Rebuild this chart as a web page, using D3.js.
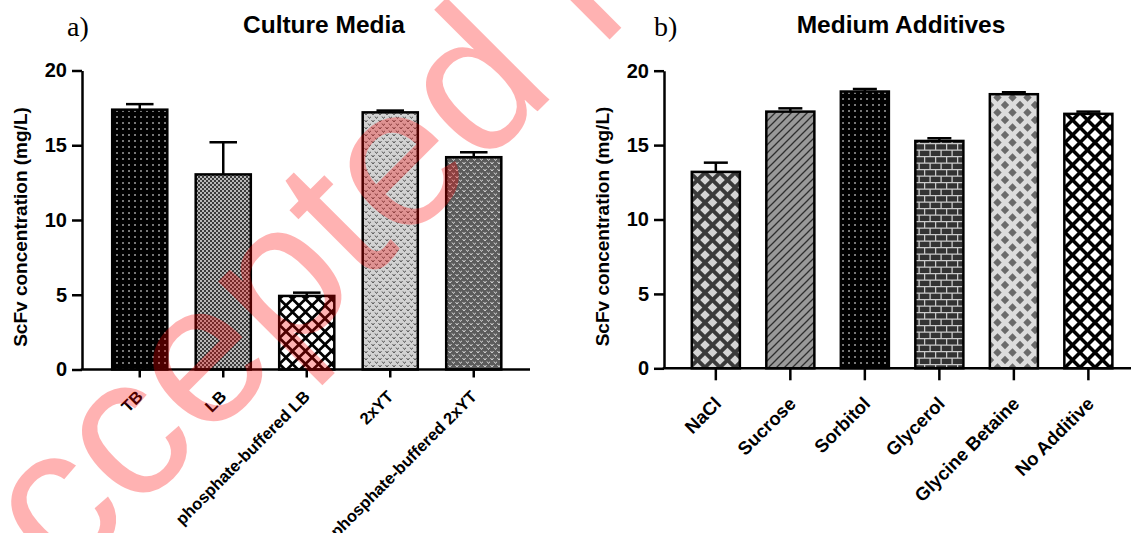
<!DOCTYPE html>
<html>
<head>
<meta charset="utf-8">
<script src="https://cdn.jsdelivr.net/npm/d3@7"></script>
<style>
  body { margin: 0; background: #fff; }
  svg { display: block; font-family: "Liberation Sans", Arial, sans-serif; }
</style>
</head>
<body>
<div id="chart"></div>
<script>
// values (mg/L, mean and upper error)
const mediaCategories = ['TB', 'LB', 'phosphate-buffered LB', '2xYT', 'phosphate-buffered 2xYT'];
const mediaMeans = [17.38, 13.05, 4.92, 17.2, 14.2];
const mediaErrors = [0.37, 2.15, 0.22, 0.12, 0.33];

const additiveCategories = ['NaCl', 'Sucrose', 'Sorbitol', 'Glycerol', 'Glycine Betaine', 'No Additive'];
const additiveMeans = [13.2, 17.25, 18.6, 15.28, 18.42, 17.1];
const additiveErrors = [0.62, 0.22, 0.17, 0.18, 0.13, 0.15];

const yTicks = [0, 5, 10, 15, 20];
const yTitle = 'ScFv concentration (mg/L)';

const width = 1131;
const height = 533;

const svg = d3.select('#chart')
  .append('svg')
  .attr('width', width)
  .attr('height', height);

const defs = svg.append('defs');

function tile(id, w, h, bg) {
  const p = defs.append('pattern')
    .attr('id', id)
    .attr('patternUnits', 'userSpaceOnUse')
    .attr('width', w)
    .attr('height', h);
  p.append('rect').attr('width', w).attr('height', h).attr('fill', bg);
  return p;
}

function dots(id, bg, fg, step) {
  const p = tile(id, step, step, bg);
  p.append('rect').attr('x', step / 2 - 0.7).attr('y', step / 2 - 0.7)
    .attr('width', 1.4).attr('height', 1.4).attr('fill', fg);
}

function diamonds(id, bg, fg, step, r) {
  const p = tile(id, step, step, bg);
  [[step / 2, step / 2], [0, 0], [step, 0], [0, step], [step, step]].forEach(([cx, cy]) => {
    p.append('path')
      .attr('d', `M${cx},${cy - r}L${cx + r},${cy}L${cx},${cy + r}L${cx - r},${cy}Z`)
      .attr('fill', fg);
  });
}

function vmarks(id, bg, fg) {
  const p = tile(id, 7, 7, bg);
  p.append('path')
    .attr('d', 'M0.5,1 l1.5,2 l1.5,-2 M4,4.5 l1.5,2 l1.5,-2')
    .attr('fill', 'none')
    .attr('stroke', fg)
    .attr('stroke-width', 1);
}

dots('dotsBlack', '#000', '#f2f2f2', 6);

let p = tile('checkGrey', 4, 4, '#3a3a3a');
p.append('rect').attr('width', 2).attr('height', 2).attr('fill', '#b8b8b8');
p.append('rect').attr('x', 2).attr('y', 2).attr('width', 2).attr('height', 2).attr('fill', '#b8b8b8');

diamonds('latticeSmall', '#000', '#fff', 13, 4.6);
vmarks('vLight', '#d2d2d2', '#555');
vmarks('vDark', '#5c5c5c', '#d8d8d8');

diamonds('latticeDark', '#3a3a3a', '#d4d4d4', 15, 4.8);

p = tile('slantGrey', 8, 8, '#999');
p.append('path')
  .attr('d', 'M0,8L8,0M-2,2L2,-2M6,10L10,6')
  .attr('stroke', '#2e2e2e')
  .attr('stroke-width', 1.3);

p = tile('bricks', 11, 13, '#333');
p.append('path')
  .attr('d', 'M0,0.6H11M0,7.1H11M0.6,0.6V7.1M6.1,7.1V13')
  .attr('stroke', '#cacaca')
  .attr('stroke-width', 1.3);

diamonds('latticeLight', '#dcdcdc', '#6a6a6a', 15, 4.2);
diamonds('latticeBig', '#000', '#fff', 15, 5);

function drawPanel(opts) {
  const g = svg.append('g');

  const x = d3.scaleBand()
    .domain(opts.categories)
    .range(opts.xRange)
    .paddingInner(opts.padInner)
    .paddingOuter(opts.padOuter);

  const y = d3.scaleLinear()
    .domain([0, 20])
    .range(opts.yRange);

  const rows = opts.categories.map((c, i) => ({ cat: c, mean: opts.means[i], err: opts.errors[i], fill: opts.fills[i] }));

  // bars
  g.selectAll('rect.bar')
    .data(rows)
    .enter()
    .append('rect')
    .attr('class', 'bar')
    .attr('x', d => x(d.cat))
    .attr('y', d => y(d.mean))
    .attr('width', x.bandwidth())
    .attr('height', d => y(0) - y(d.mean))
    .attr('fill', d => `url(#${d.fill})`)
    .attr('stroke', '#000')
    .attr('stroke-width', 2.5);

  // error bars (upper only)
  const err = g.selectAll('g.err')
    .data(rows)
    .enter()
    .append('g')
    .attr('class', 'err')
    .attr('stroke', '#000')
    .attr('stroke-width', 2.5);

  err.append('line')
    .attr('x1', d => x(d.cat) + x.bandwidth() / 2)
    .attr('x2', d => x(d.cat) + x.bandwidth() / 2)
    .attr('y1', d => y(d.mean))
    .attr('y2', d => y(d.mean + d.err));

  err.append('line')
    .attr('x1', d => x(d.cat) + x.bandwidth() / 4)
    .attr('x2', d => x(d.cat) + x.bandwidth() * 3 / 4)
    .attr('y1', d => y(d.mean + d.err))
    .attr('y2', d => y(d.mean + d.err));

  // y axis
  const yAxis = g.append('g')
    .attr('transform', `translate(${opts.axisX},0)`)
    .call(d3.axisLeft(y).tickValues(yTicks).tickSize(10).tickSizeOuter(0).tickPadding(5));

  yAxis.select('.domain').attr('stroke-width', 2.5);
  yAxis.selectAll('.tick line').attr('stroke-width', 2.5);
  yAxis.selectAll('.tick text')
    .attr('font-size', 20)
    .attr('font-weight', 'bold')
    .attr('fill', '#000')
    .attr('font-family', '"Liberation Sans", Arial, sans-serif');

  // x axis
  const xAxis = g.append('g')
    .attr('transform', `translate(0,${y(0)})`)
    .call(d3.axisBottom(x).tickSize(opts.xTickLen).tickSizeOuter(0));

  xAxis.select('.domain').remove();
  xAxis.selectAll('.tick line').attr('stroke-width', 2.5);
  xAxis.selectAll('.tick text')
    .attr('x', 0)
    .attr('y', 0)
    .attr('dy', '0.35em')
    .attr('text-anchor', 'end')
    .attr('transform', `translate(${opts.labelDx},${opts.xTickLen + opts.labelDy}) rotate(-45)`)
    .attr('font-size', opts.labelSize)
    .attr('font-weight', 'bold')
    .attr('fill', '#000')
    .attr('font-family', '"Liberation Sans", Arial, sans-serif');

  g.append('line')
    .attr('x1', opts.axisX - 1.25)
    .attr('x2', opts.xAxisEnd)
    .attr('y1', y(0))
    .attr('y2', y(0))
    .attr('stroke', '#000')
    .attr('stroke-width', 2.5);

  // y title
  g.append('text')
    .attr('transform', `translate(${opts.yTitleX},${(y(0) + y(20)) / 2 + 7}) rotate(-90)`)
    .attr('text-anchor', 'middle')
    .attr('font-size', 19)
    .attr('font-weight', 'bold')
    .text(yTitle);

  // panel letter and title
  g.append('text')
    .attr('x', opts.letterX)
    .attr('y', 36)
    .attr('font-family', '"Liberation Serif", "Times New Roman", serif')
    .attr('font-size', 28)
    .text(opts.letter);

  g.append('text')
    .attr('x', opts.titleX)
    .attr('y', 33)
    .attr('text-anchor', 'middle')
    .attr('font-size', 24.5)
    .attr('font-weight', 'bold')
    .text(opts.title);
}

drawPanel({
  categories: mediaCategories,
  means: mediaMeans,
  errors: mediaErrors,
  fills: ['dotsBlack', 'checkGrey', 'latticeSmall', 'vLight', 'vDark'],
  xRange: [98, 515.5],
  padInner: 0.34,
  padOuter: 0.17,
  yRange: [369.5, 70.5],
  axisX: 82,
  xAxisEnd: 530,
  xTickLen: 8,
  labelDx: 0,
  labelDy: 16,
  labelSize: 16.5,
  yTitleX: 27,
  letter: 'a)',
  letterX: 67,
  title: 'Culture Media',
  titleX: 324
});

drawPanel({
  categories: additiveCategories,
  means: additiveMeans,
  errors: additiveErrors,
  fills: ['latticeDark', 'slantGrey', 'dotsBlack', 'bricks', 'latticeLight', 'latticeBig'],
  xRange: [676.9, 1127.3],
  padInner: 0.355,
  padOuter: 0.2,
  yRange: [368.3, 70.7],
  axisX: 664,
  xAxisEnd: 1131,
  xTickLen: 12,
  labelDx: 2,
  labelDy: 20,
  labelSize: 18.5,
  yTitleX: 609,
  letter: 'b)',
  letterX: 654,
  title: 'Medium Additives',
  titleX: 901
});

// watermark stamped across the figure
svg.append('text')
  .attr('transform', 'translate(-31,680) rotate(-45)')
  .attr('font-size', 200)
  .attr('fill', '#ff0000')
  .attr('fill-opacity', 0.3)
  .attr('font-family', '"Liberation Sans", Arial, sans-serif')
  .style('pointer-events', 'none')
  .text('Accepted Manuscript');
</script>
</body>
</html>
